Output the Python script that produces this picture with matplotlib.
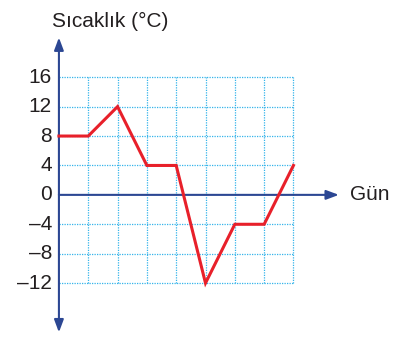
import matplotlib.pyplot as plt

plt.rcParams['font.family'] = ['Liberation Sans', 'DejaVu Sans']

days = [0, 1, 2, 3, 4, 5, 6, 7, 8]
temps = [8, 8, 12, 4, 4, -12, -4, -4, 4]
y_ticks = [16, 12, 8, 4, 0, -4, -8, -12]
y_labels = ['16', '12', '8', '4', '0', '\u20134', '\u20138', '\u201312']

RED = '#e8202a'
GRID = '#35b4ea'
AXIS = '#2c4793'
TEXT = '#231f20'

fig = plt.figure(figsize=(3.94, 3.39), dpi=100)
ax = fig.add_axes([0, 0, 1, 1])
ax.set_xlim(-2.01, 11.43)
ax.set_ylim(-19.6, 26.5)
ax.axis('off')

# dotted grid
for x in days[1:]:
    ax.plot([x, x], [-12, 16], color=GRID, lw=0.9, ls=(0, (1, 1)), zorder=1)
for y in y_ticks:
    if y != 0:
        ax.plot([0, 8], [y, y], color=GRID, lw=0.9, ls=(0, (1, 1)), zorder=1)

# axes with arrows
arrow = dict(arrowstyle='-|>,head_length=0.75,head_width=0.28',
             color=AXIS, lw=1.5, shrinkA=0, shrinkB=0)
ax.annotate('', xy=(9.55, 0), xytext=(0, 0), arrowprops=arrow, zorder=2)
ax.annotate('', xy=(0, 21.4), xytext=(0, 0), arrowprops=arrow, zorder=2)
ax.annotate('', xy=(0, -18.7), xytext=(0, 0), arrowprops=arrow, zorder=2)

ax.plot(days, temps, color=RED, lw=2.2, zorder=3, solid_joinstyle='miter')

for y, lab in zip(y_ticks, y_labels):
    ax.text(-0.24, y, lab, ha='right', va='center', fontsize=15, color=TEXT)

ax.text(-0.24, 22.86, 'Sıcaklık (°C)', ha='left', va='baseline', fontsize=15, color=TEXT)
ax.text(9.93, 0, 'Gün', ha='left', va='center', fontsize=15, color=TEXT)

fig.savefig('out.png', dpi=100)
